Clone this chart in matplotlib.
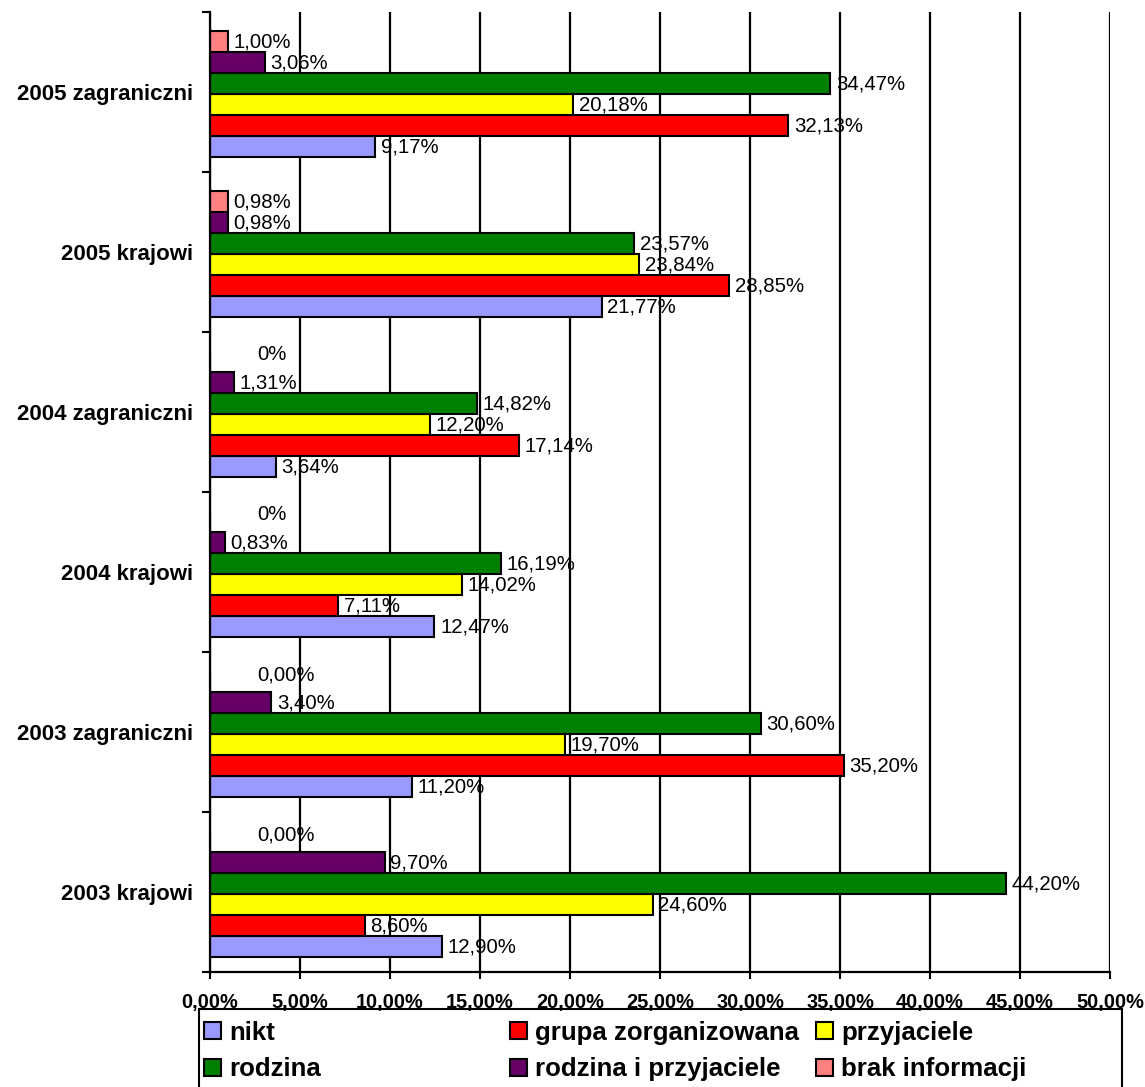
import numpy as np
import matplotlib.pyplot as plt
from matplotlib.patches import Rectangle

categories = ["2003 krajowi", "2003 zagraniczni", "2004 krajowi",
              "2004 zagraniczni", "2005 krajowi", "2005 zagraniczni"]
series = ["nikt", "grupa zorganizowana", "przyjaciele",
          "rodzina", "rodzina i przyjaciele", "brak informacji"]

nikt = [12.90, 11.20, 12.47, 3.64, 21.77, 9.17]
grupa = [8.60, 35.20, 7.11, 17.14, 28.85, 32.13]
przyjaciele = [24.60, 19.70, 14.02, 12.20, 23.84, 20.18]
rodzina = [44.20, 30.60, 16.19, 14.82, 23.57, 34.47]
rodzina_przyj = [9.70, 3.40, 0.83, 1.31, 0.98, 3.06]
brak = [0.00, 0.00, 0.00, 0.00, 0.98, 1.00]
brak_labels = ["0,00%", "0,00%", "0%", "0%", "0,98%", "1,00%"]

colors = ["#9999FF", "#FF0000", "#FFFF00", "#008000", "#660066", "#FF8080"]

plt.rcParams['font.family'] = ['Liberation Sans', 'DejaVu Sans']

fig = plt.figure(figsize=(11.45, 10.87), dpi=100)
ax = fig.add_axes([210 / 1145, 1 - 972 / 1087, 900 / 1145, 960 / 1087])

values = [nikt, grupa, przyjaciele, rodzina, rodzina_przyj, brak]
n = len(series)
h = 0.13125
y = np.arange(len(categories)) - 0.015

def fmt(v):
    return f"{v:.2f}".replace(".", ",") + "%"

handles = []
for i, (name, vals, col) in enumerate(zip(series, values, colors)):
    pos = y - n * h / 2 + (i + 0.5) * h
    bars = ax.barh(pos, vals, height=h, color=col, edgecolor="black",
                   linewidth=1.5, zorder=3, label=name)
    handles.append(bars)
    for j, (p, v) in enumerate(zip(pos, vals)):
        txt = brak_labels[j] if i == n - 1 else fmt(v)
        if v == 0:
            dx, dy = 34, 5
        else:
            dx, dy = 4, 0
        ax.annotate(txt, (v, p), xytext=(dx, dy), textcoords="offset points",
                    ha="left", va="center", fontsize=14.7, zorder=4)

ax.set_xlim(0, 50)
ax.set_ylim(-0.5, len(categories) - 0.5)
ax.set_xticks(np.arange(0, 51, 5))
ax.set_xticklabels([f"{t:.2f}".replace(".", ",") + "%" for t in np.arange(0, 51, 5)],
                   fontsize=14.4, fontweight="bold")
ax.set_yticks(np.arange(len(categories)))
ax.set_yticklabels(categories, fontsize=16, fontweight="bold")
ax.set_yticks(np.arange(-0.5, len(categories)), minor=True)
ax.tick_params(axis="y", which="major", length=0, pad=12)
ax.tick_params(axis="y", which="minor", length=6, width=1.5, direction="out")
ax.tick_params(axis="x", length=5, width=1.5, direction="out", pad=10)

ax.grid(axis="x", color="black", linewidth=1.6, zorder=1)
ax.set_axisbelow(True)
for s in ["top", "right"]:
    ax.spines[s].set_visible(False)
for s in ["left", "bottom"]:
    ax.spines[s].set_linewidth(1.6)
    ax.spines[s].set_zorder(5)

# legend frame
fig.patches.append(Rectangle((199 / 1145, -0.02), 923 / 1145, 0.02 + 1 - 1009 / 1087,
                             transform=fig.transFigure, fill=False,
                             edgecolor="black", linewidth=1.5))
col_x = [204 / 1145, 510 / 1145, 816 / 1145]
for c in range(3):
    leg = fig.legend([handles[c], handles[c + 3]], [series[c], series[c + 3]],
                     loc="center left", bbox_to_anchor=(col_x[c], 0.0331),
                     frameon=False, borderpad=0, borderaxespad=0,
                     handlelength=0.66, handleheight=0.66, handletextpad=0.32,
                     labelspacing=0.5,
                     prop={"size": 18.6, "weight": "bold"})

fig.savefig("out.png", dpi=100)
